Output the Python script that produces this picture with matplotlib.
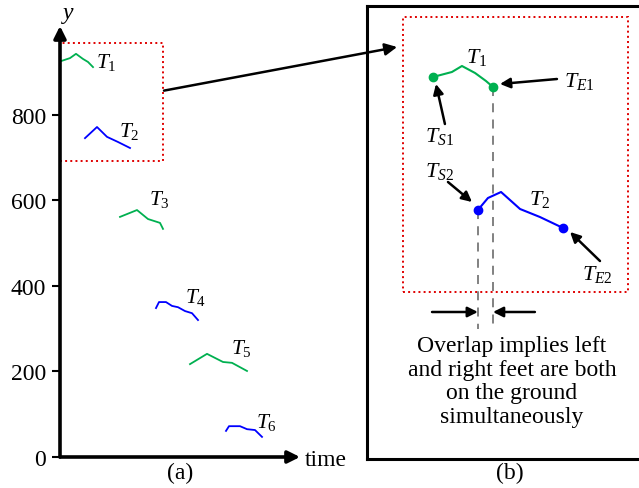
import matplotlib
matplotlib.use("Agg")
import matplotlib.pyplot as plt
from matplotlib.patches import Rectangle, ConnectionPatch

plt.rcParams['font.family'] = ['Liberation Serif', 'DejaVu Serif']
plt.rcParams['mathtext.fontset'] = 'custom'
plt.rcParams['mathtext.rm'] = 'Liberation Serif'
plt.rcParams['mathtext.it'] = 'Liberation Serif:italic'

GREEN = '#00b050'
BLUE = '#0000ff'
RED = '#e00000'

# ---------------------------------------------------------------------------
# (a) foot trajectories over time
t1_t = [0.1, 1.0, 1.6, 2.3, 2.8, 3.3]
t1_y = [925, 932, 942, 930, 923, 911]
t2_t = [2.5, 3.7, 4.7, 5.8, 7.0]
t2_y = [745, 771, 748, 736, 722]
t3_t = [6.0, 7.7, 8.8, 10.0, 10.3]
t3_y = [561, 577, 556, 547, 533]
t4_t = [9.6, 9.9, 10.6, 11.2, 11.8, 12.5, 13.2, 13.8]
t4_y = [348, 362, 362, 353, 350, 341, 336, 320]
t5_t = [13.0, 14.7, 16.3, 17.2, 18.7]
t5_y = [217, 241, 222, 220, 201]
t6_t = [16.6, 16.9, 18.0, 18.7, 19.5, 20.2]
t6_y = [61, 72, 72, 65, 63, 47]

traj_t = [t1_t, t2_t, t3_t, t4_t, t5_t, t6_t]
traj_y = [t1_y, t2_y, t3_y, t4_y, t5_y, t6_y]
traj_names = [r'$T_{\mathit{1}}$', r'$T_{\mathit{2}}$', r'$T_{\mathit{3}}$',
              r'$T_{\mathit{4}}$', r'$T_{\mathit{5}}$', r'$T_{\mathit{6}}$']
name_t = [3.6, 5.9, 8.9, 12.5, 17.1, 19.6]
name_y = [923, 762, 603, 374, 257, 84]
y_ticks = [0, 200, 400, 600, 800]

# zoomed region (t0, t1, y0, y1)
zoom_box = (0.0, 10.3, 692, 967)

# ---------------------------------------------------------------------------
# (b) zoomed view of T1 / T2
z1_t = [1.37, 2.24, 2.70, 3.30, 3.80, 4.12]
z1_y = [907, 912, 918, 911, 903, 897]
z2_t = [3.43, 3.89, 4.49, 5.36, 6.27, 7.33]
z2_y = [774, 786, 792, 775, 767, 756]


fig = plt.figure(figsize=(6.39, 4.89), dpi=100)

# ---------------------------------------------------------------------------
# panel (a)
ax = fig.add_axes([60/639, 31/489, 240/639, 431/489])
ax.set_xlim(0, 24)
ax.set_ylim(0, 1007)
for s in ax.spines.values():
    s.set_visible(False)
ax.annotate('', xy=(0, 1), xytext=(0, 0), xycoords='axes fraction',
            arrowprops=dict(arrowstyle='-|>', lw=2.6, color='black', mutation_scale=18,
                            shrinkA=0, shrinkB=0))
ax.annotate('', xy=(1, 0), xytext=(0, 0), xycoords='axes fraction',
            arrowprops=dict(arrowstyle='-|>', lw=2.6, color='black', mutation_scale=18,
                            shrinkA=0, shrinkB=0))
ax.set_yticks(y_ticks)
ax.set_yticklabels([str(v) for v in y_ticks], fontsize=17)
ax.set_xticks([])
ax.tick_params(axis='y', direction='out', length=6, width=1.5, pad=4)

for i in range(len(traj_t)):
    c = GREEN if i % 2 == 0 else BLUE
    ax.plot(traj_t[i], traj_y[i], color=c, lw=1.3)
    ax.text(name_t[i], name_y[i], traj_names[i], fontsize=15.5, ha='left', va='center')

ax.add_patch(Rectangle((zoom_box[0], zoom_box[2]), zoom_box[1] - zoom_box[0],
                       zoom_box[3] - zoom_box[2], fill=False, edgecolor=RED,
                       lw=1.4, linestyle=':', clip_on=False))

fig.text(68/639, 1 - 15/489, r'$y$', fontsize=17, ha='center', va='center')
fig.text(305/639, 1 - 461/489, 'time', fontsize=17, ha='left', va='center')
fig.text(180/639, 1 - 473/489, '(a)', fontsize=17, ha='center', va='center')

# ---------------------------------------------------------------------------
# panel (b)
bx = fig.add_axes([367/639, 29/489, 333/639, 453/489])
bx.set_xlim(-1.648, 13.6)
bx.set_ylim(525, 978)
bx.set_xticks([])
bx.set_yticks([])
for s in bx.spines.values():
    s.set_linewidth(2.2)

bx.add_patch(Rectangle((zoom_box[0], zoom_box[2]), zoom_box[1] - zoom_box[0],
                       zoom_box[3] - zoom_box[2], fill=False, edgecolor=RED,
                       lw=1.4, linestyle=':'))

# overlap guides
bx.plot([z1_t[-1], z1_t[-1]], [z1_y[-1], 655], color='#777777', lw=1.3, dashes=(5, 4))
bx.plot([z2_t[0], z2_t[0]], [z2_y[0], 655], color='#777777', lw=1.3, dashes=(5, 4))

bx.plot(z1_t, z1_y, color=GREEN, lw=1.5)
bx.plot([z1_t[0], z1_t[-1]], [z1_y[0], z1_y[-1]], 'o', color=GREEN, ms=6)
bx.plot(z2_t, z2_y, color=BLUE, lw=1.5)
bx.plot([z2_t[0], z2_t[-1]], [z2_y[0], z2_y[-1]], 'o', color=BLUE, ms=6)

bx.text(3.39, 927, r'$T_{\mathit{1}}$', fontsize=16, ha='center', va='center')
bx.text(6.27, 785, r'$T_{\mathit{2}}$', fontsize=16, ha='center', va='center')

arr = dict(arrowstyle='-|>', lw=1.8, color='black', mutation_scale=15, shrinkA=0, shrinkB=0)
bx.annotate('', xy=(4.44, 900), xytext=(7.05, 905), arrowprops=arr)
bx.text(8.1, 903, r'$T_{E\mathit{1}}$', fontsize=16, ha='center', va='center')
bx.annotate('', xy=(1.51, 900), xytext=(1.92, 860), arrowprops=arr)
bx.text(1.69, 848, r'$T_{S\mathit{1}}$', fontsize=16, ha='center', va='center')
bx.annotate('', xy=(3.16, 782), xytext=(2.06, 802), arrowprops=arr)
bx.text(1.69, 813, r'$T_{S\mathit{2}}$', fontsize=16, ha='center', va='center')
bx.annotate('', xy=(7.65, 752), xytext=(9.02, 723), arrowprops=arr)
bx.text(8.88, 710, r'$T_{E\mathit{2}}$', fontsize=16, ha='center', va='center')

bx.annotate('', xy=(z2_t[0], 672), xytext=(1.33, 672), arrowprops=arr)
bx.annotate('', xy=(z1_t[-1], 672), xytext=(6.04, 672), arrowprops=arr)
bx.text(4.99, 603, 'Overlap implies left\nand right feet are both\non the ground\nsimultaneously',
        fontsize=17, ha='center', va='center', multialignment='center', linespacing=1.15)

fig.text(510/639, 1 - 473/489, '(b)', fontsize=17, ha='center', va='center')

# arrow from zoom box in (a) to panel (b)
con = ConnectionPatch(xyA=(10.4, 856), coordsA=ax.transData,
                      xyB=(-0.27, 937), coordsB=bx.transData,
                      arrowstyle='-|>', lw=1.8, color='black', mutation_scale=18)
fig.add_artist(con)

fig.savefig('out.png', dpi=100)
